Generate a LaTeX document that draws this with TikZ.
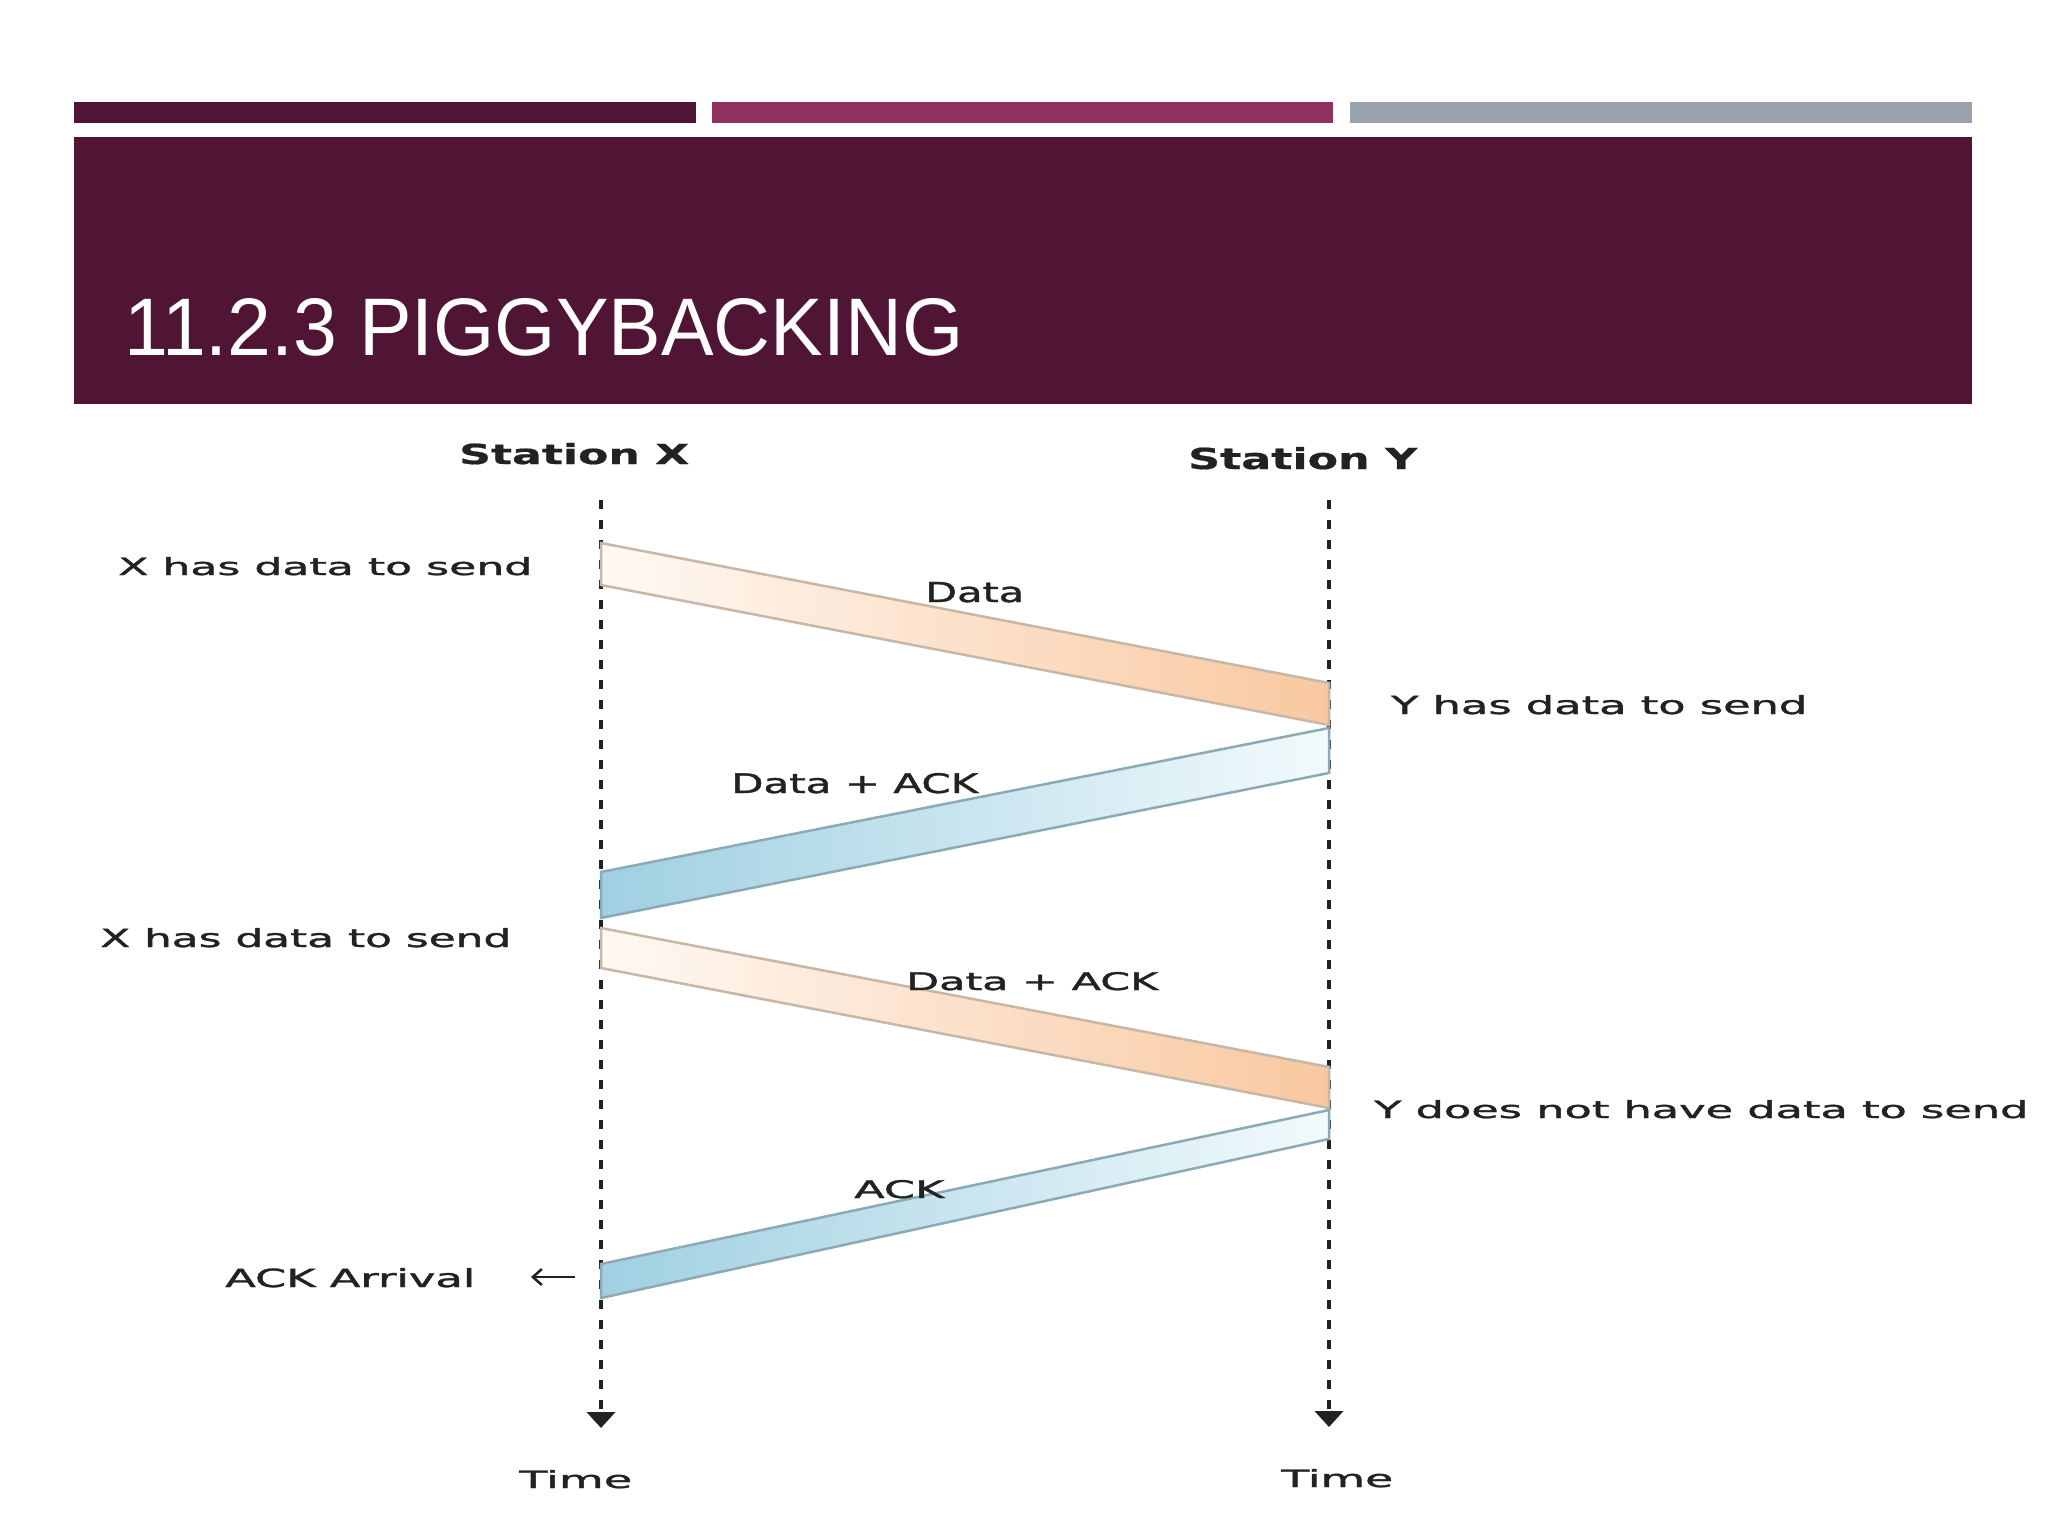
\documentclass[tikz,border=0pt]{standalone}
\usepackage{fontspec}
\usepackage{graphicx}
\setmainfont{DejaVu Sans}
\newfontfamily\titlefont{Liberation Sans}
\newfontfamily\lblfont[FakeBold=1.2]{DejaVu Sans}
\newfontfamily\boldlbl[FakeBold=0.6]{DejaVu Sans Bold}
\usetikzlibrary{arrows.meta}
\definecolor{plum}{RGB}{80,21,52}
\definecolor{berry}{RGB}{145,48,95}
\definecolor{slate}{RGB}{154,163,171}
\definecolor{peach}{RGB}{249,200,160}
\definecolor{peachlight}{RGB}{255,249,244}
\definecolor{sky}{RGB}{160,208,226}
\definecolor{skylight}{RGB}{242,250,252}
\definecolor{peachedge}{RGB}{200,182,166}
\definecolor{skyedge}{RGB}{140,170,182}
\definecolor{ink}{RGB}{34,34,34}
\newcommand{\fitlbl}[3]{\resizebox{#1pt}{#2pt}{#3}}
\begin{document}
\begin{tikzpicture}[x=1pt,y=-1pt,
  lbl/.style={inner sep=0pt, anchor=base west, text=ink, font=\lblfont},
  timeline/.style={draw=ink, line width=4.5pt, dash pattern=on 9pt off 11pt, -{Triangle[width=28pt,length=16pt]}},
  outband/.style={draw=peachedge, line width=2.5pt, left color=peachlight, right color=peach},
  backband/.style={draw=skyedge, line width=2.5pt, left color=sky, right color=skylight},
]
\useasboundingbox[fill=white] (0,0) rectangle (2048,1536);

% header
\fill[plum]  (74,102) rectangle (696,123);
\fill[berry] (712,102) rectangle (1333,123);
\fill[slate] (1350,102) rectangle (1972,123);
\fill[plum]  (74,137) rectangle (1972,404);
\node[anchor=base west, inner sep=0pt, text=white] (title) at (124,355)
  {\titlefont\fitlbl{839}{57}{11.2.3 PIGGYBACKING}};

% station labels
\node[lbl, font=\boldlbl] (stX) at (459,464) {\fitlbl{230}{21}{Station X}};
\node[lbl, font=\boldlbl] (stY) at (1188,469) {\fitlbl{229}{22}{Station Y}};

% timeline coordinates
\coordinate (xtop) at (601,500);
\coordinate (xbot) at (601,1428);
\coordinate (ytop) at (1329,500);
\coordinate (ybot) at (1329,1427);

% band corners
\coordinate (a1) at (601,543);  \coordinate (a2) at (1329,683);
\coordinate (a3) at (1329,725); \coordinate (a4) at (601,585);
\coordinate (b1) at (1329,728); \coordinate (b2) at (1329,773);
\coordinate (b3) at (601,918);  \coordinate (b4) at (601,872);
\coordinate (c1) at (601,928);  \coordinate (c2) at (1329,1067);
\coordinate (c3) at (1329,1108); \coordinate (c4) at (601,968);
\coordinate (d1) at (1329,1110); \coordinate (d2) at (1329,1139);
\coordinate (d3) at (601,1298); \coordinate (d4) at (601,1264);

% timelines
\draw[timeline] (xtop) -- (xbot);
\draw[timeline] (ytop) -- (ybot);

% frames
\draw[outband] (a1) -- (a2) -- (a3) -- (a4) -- cycle;
\draw[backband] (b1) -- (b2) -- (b3) -- (b4) -- cycle;
\draw[outband] (c1) -- (c2) -- (c3) -- (c4) -- cycle;
\draw[backband] (d1) -- (d2) -- (d3) -- (d4) -- cycle;

% labels
\node[lbl] (xhas1) at (118,575) {\fitlbl{414}{18}{X has data to send}};
\node[lbl] (data1) at (925,602) {\fitlbl{99}{20}{Data}};
\node[lbl] (yhas) at (1391,714) {\fitlbl{416}{19}{Y has data to send}};
\node[lbl] (dack1) at (731,793) {\fitlbl{247}{20}{Data + ACK}};
\node[lbl] (xhas2) at (100,947) {\fitlbl{411}{19}{X has data to send}};
\node[lbl] (dack2) at (906,990) {\fitlbl{252}{18}{Data + ACK}};
\node[lbl] (ynot) at (1374,1118) {\fitlbl{654}{18}{Y does not have data to send}};
\node[lbl] (ack) at (854,1198) {\fitlbl{90}{18}{ACK}};
\node[lbl] (ackarr) at (225,1287) {\fitlbl{250}{19}{ACK Arrival}};
\node[lbl] (time1) at (519,1488) {\fitlbl{113}{18}{Time}};
\node[lbl] (time2) at (1281,1487) {\fitlbl{112}{18}{Time}};

% ACK arrival pointer
\coordinate (ptrS) at (575,1277);
\coordinate (ptrE) at (531,1277);
\draw[ink, line width=2.5pt, -{Straight Barb[length=9pt,width=16pt]}] (ptrS) -- (ptrE);
\end{tikzpicture}
\end{document}
